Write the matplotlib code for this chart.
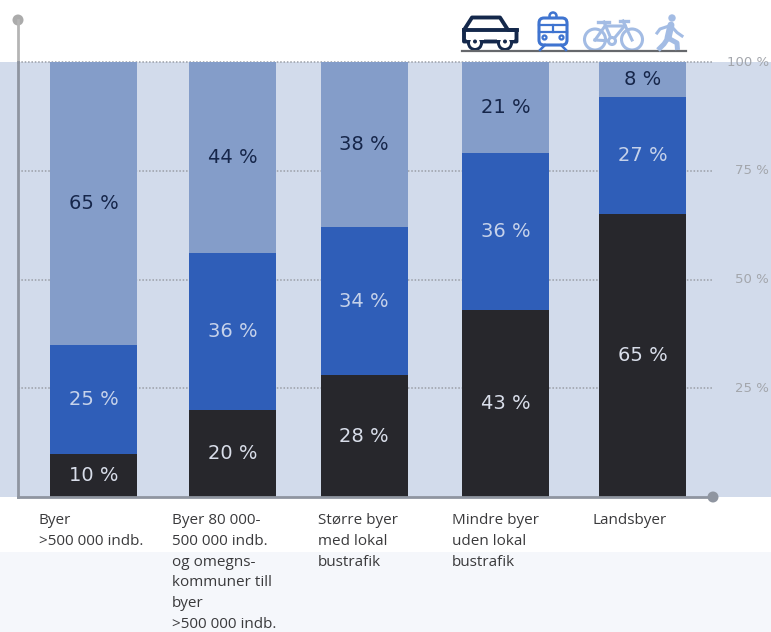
import matplotlib
matplotlib.use("Agg")
import matplotlib.pyplot as plt
from matplotlib.patches import Circle, Polygon, FancyBboxPatch, Rectangle

categories = [
    "Byer\n>500 000 indb.",
    "Byer 80 000-\n500 000 indb.\nog omegns-\nkommuner till\nbyer\n>500 000 indb.",
    "Større byer\nmed lokal\nbustrafik",
    "Mindre byer\nuden lokal\nbustrafik",
    "Landsbyer",
]
car = [10, 20, 28, 43, 65]
public = [25, 36, 34, 36, 27]
bike_walk = [65, 44, 38, 21, 8]
y_ticks = [25, 50, 75, 100]

BG = "#d2dbeb"
C_LIGHT = "#849dc9"
C_BLUE = "#2f5eb8"
C_DARK = "#27272c"
NAVY = "#14284b"
GREY = "#8f95a0"
ICON_BLUE = "#3f74d0"
ICON_LIGHT = "#a3bce4"

bar_x = [93.5, 232.5, 364, 505.5, 642.5]
label_x = [39, 172, 318, 452, 592]

fig = plt.figure(figsize=(7.71, 6.32), dpi=100)

# pixel-sized backdrop, axis lines and icons live on this one
deco = fig.add_axes([0, 0, 1, 1], zorder=1)
deco.set_xlim(0, 771)
deco.set_ylim(632, 0)
deco.axis("off")
deco.add_patch(Rectangle((0, 62), 771, 435, fc=BG, ec="none"))
deco.add_patch(Rectangle((0, 552), 771, 80, fc="#f5f7fb", ec="none"))

ax = fig.add_axes([0, 0, 1, 1], zorder=2)
ax.patch.set_alpha(0)
ax.set_xlim(0, 771)
ax.set_ylim(-135 / 4.35, 497 / 4.35)
ax.axis("off")

for t in y_ticks:
    ax.plot([18, 713], [t, t], color="#9a9ea6", lw=1.1, ls=(0, (1, 1.2)), zorder=1)
    ax.text(769, t, f"{t} %", ha="right", va="center", fontsize=9.5,
            color="#a3a6ac", family="DejaVu Sans")

bottoms = [0] * len(car)
for vals, col, txt in [(car, C_DARK, "#d9deea"), (public, C_BLUE, "#c6d2ea"), (bike_walk, C_LIGHT, "#16264a")]:
    ax.bar(bar_x, vals, width=87, bottom=bottoms, color=col, zorder=2)
    for x, b, v in zip(bar_x, bottoms, vals):
        ax.text(x, b + v / 2, f"{v} %", ha="center", va="center", fontsize=14,
                color=txt, family="DejaVu Sans", zorder=3)
    bottoms = [b + v for b, v in zip(bottoms, vals)]

# axes with round end caps
over = fig.add_axes([0, 0, 1, 1], zorder=3)
over.patch.set_alpha(0)
over.set_xlim(0, 771)
over.set_ylim(632, 0)
over.axis("off")
over.plot([18, 18], [20, 62], color="#b5b5b5", lw=2)
over.plot([18, 18], [62, 497], color="#8f95a0", lw=2)
over.plot([18, 713], [497, 497], color=GREY, lw=2)
over.add_patch(Circle((18, 20), 5.5, fc="#ababab", ec="none"))
over.add_patch(Circle((713, 497), 5.5, fc=GREY, ec="none"))

for x, c in zip(label_x, categories):
    over.text(x, 513.5, c, ha="left", va="top", fontsize=11, color="#3a3a3c",
              family="Open Sans", linespacing=1.51)

# car
over.add_patch(Polygon([(464, 30), (472, 17.5), (500, 17.5), (508, 30), (516.5, 30),
                        (516.5, 41.5), (464, 41.5)], closed=True, fc="white", ec=NAVY, lw=2.8, joinstyle="round"))
over.plot([464, 516.5], [30, 30], color=NAVY, lw=2.8)
for cx in (475, 505):
    over.add_patch(Circle((cx, 43), 8, fc=NAVY, ec="none"))
    over.add_patch(Circle((cx, 43), 5, fc="white", ec="none"))
    over.add_patch(Rectangle((cx - 8.5, 33), 17, 6.5, fc="white", ec="none"))
    over.add_patch(Circle((cx, 41.5), 2, fc=NAVY, ec="none"))

# ground line under the icons
over.plot([462, 686], [51, 51], color="#66686c", lw=1.6)

# train
over.add_patch(Circle((553, 16), 3.5, fc="white", ec=ICON_BLUE, lw=1.8))
over.add_patch(FancyBboxPatch((539, 18), 28, 27, boxstyle="round,pad=0,rounding_size=5",
                              fc="white", ec=ICON_BLUE, lw=2.2))
over.plot([539, 567], [24.5, 24.5], color=ICON_BLUE, lw=1.6)
over.plot([539, 567], [32, 32], color=ICON_BLUE, lw=1.6)
over.plot([553, 553], [24.5, 32], color=ICON_BLUE, lw=1.6)
for cx in (544.5, 561.5):
    over.add_patch(Circle((cx, 37.5), 2, fc="white", ec=ICON_BLUE, lw=1.6))
over.plot([545, 540], [45, 50], color=ICON_BLUE, lw=1.8)
over.plot([561, 566], [45, 50], color=ICON_BLUE, lw=1.8)

# bicycle
for cx in (595, 632):
    over.add_patch(Circle((cx, 39.5), 10.5, fc="none", ec=ICON_LIGHT, lw=2.2))
over.plot([595, 605, 625], [40, 26, 26], color=ICON_LIGHT, lw=2.2)
over.plot([595, 612, 624.5], [40, 41, 26], color=ICON_LIGHT, lw=2.2)
over.plot([604, 612], [22, 41], color=ICON_LIGHT, lw=2.2)
over.plot([623, 632], [21, 40], color=ICON_LIGHT, lw=2.2)
over.plot([598, 609], [22, 22], color=ICON_LIGHT, lw=2.4)
over.plot([620, 628], [21, 21], color=ICON_LIGHT, lw=2.4)
over.add_patch(Circle((612, 41), 3.5, fc="white", ec=ICON_LIGHT, lw=2.2, zorder=5))

# pedestrian
over.add_patch(Circle((672, 18), 3.7, fc=ICON_LIGHT, ec="none"))
over.plot([671, 668], [25, 38], color=ICON_LIGHT, lw=5, solid_capstyle="round")
over.plot([668, 664, 658], [38, 44, 50], color=ICON_LIGHT, lw=3.6, solid_capstyle="butt")
over.plot([668, 677, 677.5], [38, 43, 50], color=ICON_LIGHT, lw=3.6, solid_capstyle="butt")
over.plot([669, 660, 657], [26, 29, 33], color=ICON_LIGHT, lw=2.2)
over.plot([672, 677, 682], [27, 32.5, 36], color=ICON_LIGHT, lw=2.2)

fig.savefig("out.png", dpi=100)
